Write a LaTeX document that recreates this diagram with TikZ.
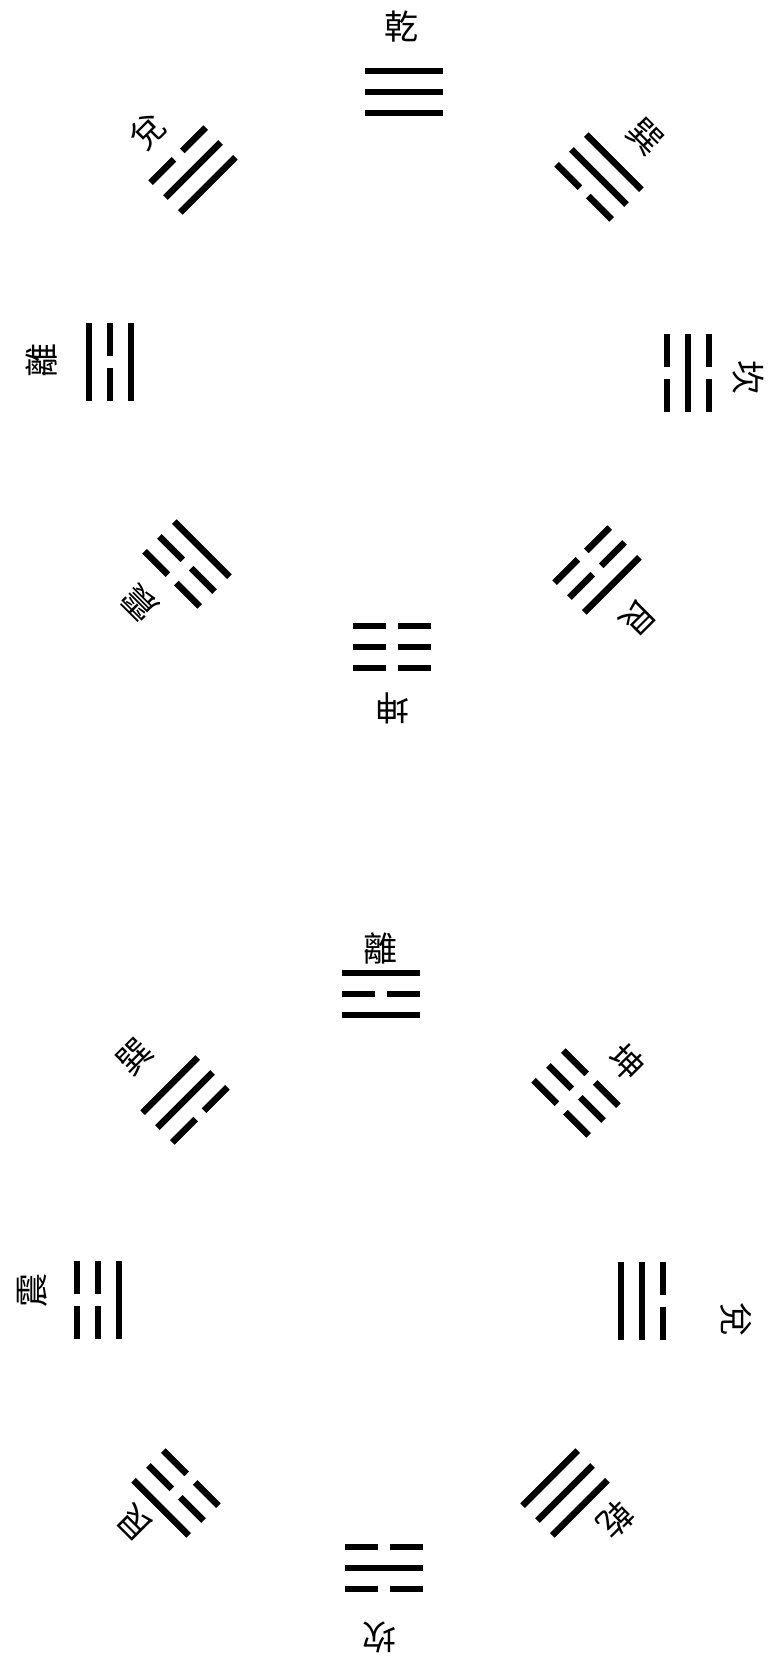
\documentclass[tikz,border=0pt]{standalone}
\usepackage{fontspec}
\newfontfamily\cjk{Noto Sans CJK TC}
\tikzset{
  yao/.style={line width=6.5pt, line cap=butt, black},
  lbl/.style={font=\cjk\fontsize{34}{34}\selectfont, inner sep=0pt},
}
\newcommand\yaoline[2]{%
  \ifnum#2=1
    \draw[yao] (-39pt,#1pt) -- (39pt,#1pt);
  \else
    \draw[yao] (-39pt,#1pt) -- (-6pt,#1pt);
    \draw[yao] (6pt,#1pt) -- (39pt,#1pt);
  \fi}
% #1 x, #2 y (image coords), #3 polar angle, #4 inner(bottom) #5 middle #6 outer(top)
\newcommand\gua[6]{%
  \begin{scope}[shift={(#1,#2)}, rotate=#3-90]
    \yaoline{-21}{#4}\yaoline{0}{#5}\yaoline{21}{#6}
  \end{scope}}
\begin{document}
\begin{tikzpicture}[x=1pt,y=-1pt]
\useasboundingbox (0,0) rectangle (769,1673);
% ---------- upper circle ----------
\gua{404}{92}{90}{1}{1}{1}
\node[lbl] (uqian) at (401,27) {乾};
\gua{599}{177}{45}{0}{1}{1}
\node[lbl, rotate=-45] (uxun) at (645,137) {巽};
\gua{688}{373}{0}{0}{1}{0}
\node[lbl, rotate=-90] (ukan) at (748,377) {坎};
\gua{597}{570}{-45}{0}{0}{1}
\node[lbl, rotate=-135] (ugen) at (638,618) {艮};
\gua{392}{647}{-90}{0}{0}{0}
\node[lbl, rotate=180] (ukun) at (392,708) {坤};
\gua{187}{564}{-135}{1}{0}{0}
\node[lbl, rotate=135] (uzhen) at (140,603) {震};
\gua{110}{362}{180}{1}{0}{1}
\node[lbl, rotate=90] (uli) at (42,360) {離};
\gua{193}{170}{135}{1}{1}{0}
\node[lbl, rotate=45] (udui) at (148,132) {兌};
% ---------- lower circle ----------
\gua{381}{994}{90}{1}{0}{1}
\node[lbl] (lli) at (380,948) {離};
\gua{576}{1093}{45}{0}{0}{0}
\node[lbl, rotate=-45] (lkun) at (627,1062) {坤};
\gua{642}{1301}{0}{1}{1}{0}
\node[lbl, rotate=-90] (ldui) at (736,1319) {兌};
\gua{565}{1493}{-45}{1}{1}{1}
\node[lbl, rotate=-135] (lqian) at (616,1520) {乾};
\gua{384}{1568}{-90}{0}{1}{0}
\node[lbl, rotate=180] (lkan) at (379,1637) {坎};
\gua{176}{1493}{-135}{0}{0}{1}
\node[lbl, rotate=135] (lgen) at (135,1523) {艮};
\gua{98}{1300}{180}{1}{0}{0}
\node[lbl, rotate=90] (lzhen) at (32,1290) {震};
\gua{185}{1100}{135}{0}{1}{1}
\node[lbl, rotate=45] (lxun) at (135,1057) {巽};
\end{tikzpicture}
\end{document}
